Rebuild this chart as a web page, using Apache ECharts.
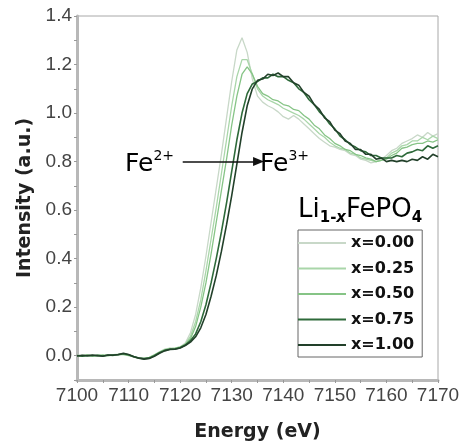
<!DOCTYPE html>
<html>
<head>
<meta charset="utf-8">
<script src="https://cdn.jsdelivr.net/npm/echarts@6/dist/echarts.min.js"></script>
<style>
  html, body { margin: 0; padding: 0; background: #fff; }
  #chart { width: 470px; height: 445px; }
</style>
</head>
<body>
<div id="chart"></div>
<script>
// energy grid (eV)
const energy = [
  7100, 7101, 7102, 7103, 7104, 7105, 7106, 7107, 7108, 7109,
  7110, 7111, 7112, 7113, 7114, 7115, 7116, 7117, 7118, 7119,
  7120, 7121, 7122, 7123, 7124, 7125, 7126, 7127, 7128, 7129,
  7130, 7131, 7132, 7133, 7134, 7135, 7136, 7137, 7138, 7139,
  7140, 7141, 7142, 7143, 7144, 7145, 7146, 7147, 7148, 7149,
  7150, 7151, 7152, 7153, 7154, 7155, 7156, 7157, 7158, 7159,
  7160, 7161, 7162, 7163, 7164, 7165, 7166, 7167, 7168, 7169,
  7170
];

// normalised intensity
const x000 = [
  0.000, -0.003, 0.002, -0.001, 0.003, -0.002, 0.004, 0.001, 0.006, 0.009,
  0.002, -0.006, -0.011, -0.013, -0.008, 0.003, 0.016, 0.027, 0.031, 0.029,
  0.036, 0.052, 0.095, 0.17, 0.28, 0.41, 0.55, 0.69, 0.83, 0.98,
  1.13, 1.26, 1.31, 1.25, 1.14, 1.07, 1.045, 1.03, 1.02, 1.005,
  0.985, 0.975, 0.99, 0.975, 0.955, 0.935, 0.915, 0.895, 0.88, 0.865,
  0.86, 0.85, 0.845, 0.83, 0.825, 0.81, 0.805, 0.795, 0.80, 0.81,
  0.825, 0.845, 0.855, 0.875, 0.885, 0.895, 0.91, 0.90, 0.92, 0.905,
  0.915
];
const x025 = [
  0.002, -0.001, 0.000, 0.002, -0.002, 0.001, 0.003, 0.000, 0.005, 0.007,
  0.003, -0.004, -0.009, -0.012, -0.009, 0.001, 0.014, 0.025, 0.030, 0.030,
  0.034, 0.048, 0.08, 0.14, 0.23, 0.35, 0.48, 0.61, 0.75, 0.89,
  1.03, 1.15, 1.22, 1.22, 1.16, 1.10, 1.07, 1.055, 1.045, 1.035,
  1.02, 1.01, 1.00, 0.99, 0.975, 0.955, 0.935, 0.915, 0.9, 0.88,
  0.865, 0.855, 0.85, 0.835, 0.83, 0.815, 0.81, 0.805, 0.80, 0.805,
  0.815, 0.835, 0.845, 0.865, 0.87, 0.885, 0.885, 0.9, 0.89, 0.905,
  0.895
];
const x050 = [
  -0.002, 0.001, 0.003, -0.002, 0.001, 0.003, -0.001, 0.004, 0.006, 0.005,
  0.000, -0.005, -0.010, -0.011, -0.007, 0.004, 0.015, 0.024, 0.028, 0.031,
  0.037, 0.047, 0.07, 0.12, 0.20, 0.30, 0.42, 0.55, 0.68, 0.81,
  0.95, 1.07, 1.16, 1.19, 1.16, 1.11, 1.08, 1.07, 1.055, 1.05,
  1.035, 1.03, 1.015, 1.01, 0.99, 0.975, 0.95, 0.935, 0.91, 0.895,
  0.875, 0.865, 0.85, 0.845, 0.83, 0.825, 0.815, 0.81, 0.80, 0.805,
  0.81, 0.825, 0.835, 0.855, 0.86, 0.87, 0.875, 0.875, 0.885, 0.88,
  0.89
];
const x075 = [
  0.001, -0.002, 0.001, 0.000, 0.002, -0.001, 0.002, 0.003, 0.004, 0.008,
  0.004, -0.003, -0.009, -0.012, -0.010, 0.000, 0.012, 0.022, 0.027, 0.028,
  0.033, 0.044, 0.062, 0.09, 0.14, 0.21, 0.30, 0.40, 0.51, 0.63,
  0.76, 0.89, 1.00, 1.08, 1.12, 1.13, 1.145, 1.145, 1.16, 1.15,
  1.15, 1.135, 1.125, 1.10, 1.085, 1.055, 1.035, 1.005, 0.985, 0.955,
  0.935, 0.905, 0.89, 0.87, 0.86, 0.845, 0.84, 0.825, 0.825, 0.815,
  0.815, 0.815, 0.825, 0.82, 0.835, 0.84, 0.85, 0.845, 0.865, 0.855,
  0.865
];
const x100 = [
  -0.001, 0.002, 0.000, 0.003, 0.000, -0.002, 0.003, 0.002, 0.005, 0.010,
  0.005, -0.004, -0.010, -0.014, -0.011, -0.002, 0.010, 0.020, 0.026, 0.027,
  0.032, 0.042, 0.056, 0.078, 0.115, 0.17, 0.245, 0.33, 0.43, 0.54,
  0.66, 0.79, 0.92, 1.03, 1.10, 1.135, 1.14, 1.16, 1.155, 1.165,
  1.15, 1.15, 1.125, 1.115, 1.085, 1.07, 1.035, 1.015, 0.98, 0.965,
  0.93, 0.915, 0.885, 0.875, 0.85, 0.85, 0.83, 0.83, 0.81, 0.815,
  0.80, 0.805, 0.80, 0.805, 0.80, 0.81, 0.805, 0.82, 0.81, 0.83,
  0.82
];

const seriesNames = ['x=0.00', 'x=0.25', 'x=0.50', 'x=0.75', 'x=1.00'];
const seriesValues = [x000, x025, x050, x075, x100];
const seriesColors = ['#c8d8c8', '#a9d6a9', '#86c486', '#2e6a3a', '#22402a'];

const xTickLabels = [7100, 7110, 7120, 7130, 7140, 7150, 7160, 7170];
const yTickLabels = [0.0, 0.2, 0.4, 0.6, 0.8, 1.0, 1.2, 1.4];

// Fe2+ -> Fe3+ arrow, in data coordinates
const arrowFrom = [7120.5, 0.8];
const arrowTo = [7135.2, 0.8];

const chart = echarts.init(document.getElementById('chart'), null, { renderer: 'canvas' });

const series = seriesNames.map((name, k) => ({
  name,
  type: 'line',
  symbol: 'none',
  smooth: false,
  data: energy.map((e, i) => [e, seriesValues[k][i]]),
  lineStyle: { color: seriesColors[k], width: k > 2 ? 1.6 : 1.3 },
  itemStyle: { color: seriesColors[k] },
  z: 2
}));

series[4].markLine = {
  silent: true,
  symbol: ['none', 'triangle'],
  symbolSize: [9, 11],
  label: { show: false },
  lineStyle: { color: '#111', width: 1.6, type: 'solid' },
  data: [[{ coord: arrowFrom }, { coord: arrowTo }]]
};

const feRich = {
  m: { fontFamily: 'DejaVu Sans', fontSize: 25, color: '#111', lineHeight: 30, verticalAlign: 'middle' },
  s: { fontFamily: 'DejaVu Sans', fontSize: 14, color: '#111', lineHeight: 30, verticalAlign: 'top' }
};

const option = {
  animation: false,
  backgroundColor: '#fff',
  grid: {
    left: 77, top: 16, right: 32, bottom: 65,
    outerBoundsMode: 'none',
    show: true, borderColor: '#a8a8a8', borderWidth: 1
  },
  xAxis: {
    type: 'value',
    min: 7100, max: 7170, interval: 10,
    name: 'Energy (eV)',
    nameLocation: 'middle',
    nameGap: 43,
    nameTextStyle: { fontFamily: 'DejaVu Sans', fontWeight: 'bold', fontSize: 19, color: '#222' },
    axisLine: { onZero: false, lineStyle: { color: '#b8b8b8', width: 3 } },
    axisTick: { length: 3, lineStyle: { color: '#999' } },
    minorTick: { show: true, splitNumber: 2, length: 3, lineStyle: { color: '#999' } },
    axisLabel: {
      color: '#444', fontFamily: 'Liberation Sans', fontSize: 19, margin: 6,
      formatter: v => {
        const hit = xTickLabels.find(t => Math.abs(t - v) < 1e-6);
        return hit === undefined ? '' : String(hit);
      }
    },
    splitLine: { show: false }
  },
  yAxis: {
    type: 'value',
    min: -0.1, max: 1.4, interval: 0.1,
    name: 'Intensity (a.u.)',
    nameLocation: 'middle',
    nameGap: 41,
    nameTextStyle: { fontFamily: 'DejaVu Sans', fontWeight: 'bold', fontSize: 19, color: '#222' },
    axisLine: { show: true, onZero: false, lineStyle: { color: '#b8b8b8', width: 3 } },
    axisTick: { length: 3, lineStyle: { color: '#999' } },
    axisLabel: {
      color: '#444', fontFamily: 'Liberation Sans', fontSize: 19, margin: 5,
      formatter: v => {
        const hit = yTickLabels.find(t => Math.abs(t - v) < 1e-6);
        return hit === undefined ? '' : hit.toFixed(1);
      }
    },
    splitLine: { show: false }
  },
  legend: {
    orient: 'vertical',
    left: 298, top: 230,
    icon: 'rect',
    itemWidth: 48, itemHeight: 2, itemGap: 7.5,
    padding: [4, 8, 3, 0],
    backgroundColor: '#fff',
    borderColor: '#666', borderWidth: 1,
    selectedMode: false,
    textStyle: { fontFamily: 'DejaVu Sans', fontWeight: 'bold', fontSize: 16, lineHeight: 18, color: '#111' },
    data: seriesNames
  },
  graphic: [
    { type: 'text', left: 125, top: 149, z: 10, style: { text: '{m|Fe}{s|2+}', rich: feRich } },
    { type: 'text', left: 260, top: 149, z: 10, style: { text: '{m|Fe}{s|3+}', rich: feRich } },
    {
      type: 'text', left: 298, top: 197, z: 10,
      style: {
        text: '{m|Li}{b|1-}{i|x}{m|FePO}{b|4}',
        rich: {
          m: { fontFamily: 'DejaVu Sans', fontSize: 26, color: '#111', lineHeight: 32, verticalAlign: 'middle' },
          b: { fontFamily: 'DejaVu Sans', fontSize: 15, fontWeight: 'bold', color: '#111', lineHeight: 32, verticalAlign: 'bottom' },
          i: { fontFamily: 'DejaVu Sans', fontSize: 15, fontWeight: 'bold', fontStyle: 'italic', color: '#111', lineHeight: 32, verticalAlign: 'bottom' }
        }
      }
    }
  ],
  series
};

chart.setOption(option);
</script>
</body>
</html>
